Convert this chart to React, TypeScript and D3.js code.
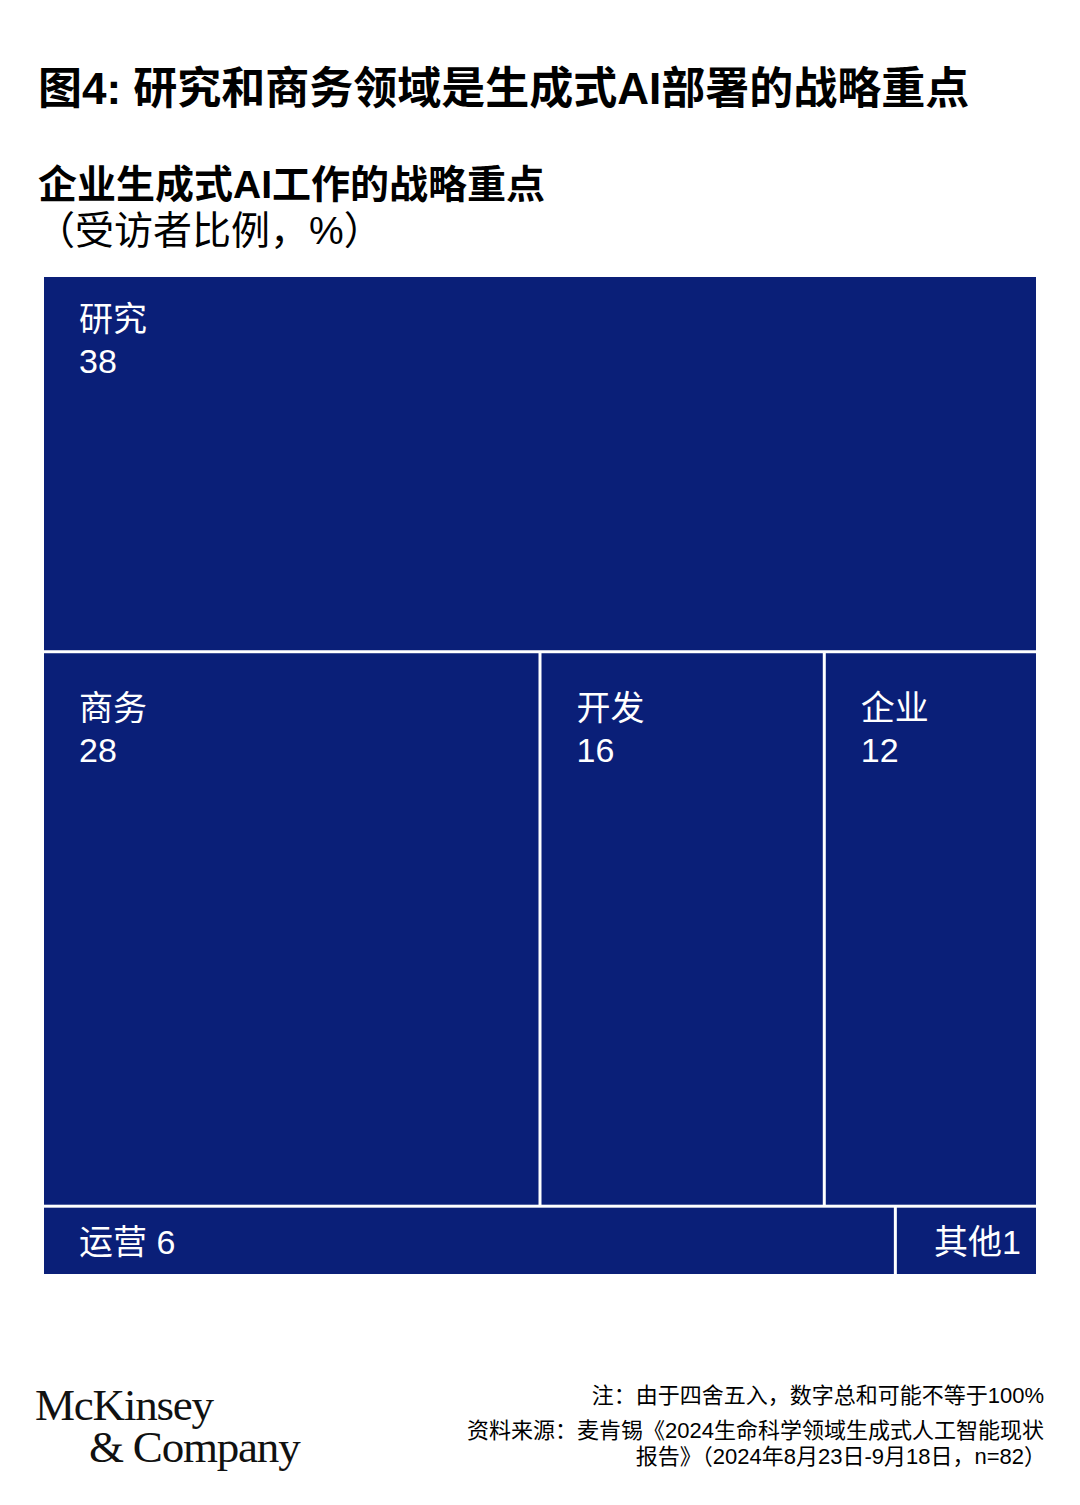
import React from "react";
import * as d3 from "d3";

const rowGroups = ["row1", "row2", "row3"];
const categories = ["研究", "商务", "开发", "企业", "运营", "其他"];
const values = [38, 28, 16, 12, 6, 1];
const rowOf = ["row1", "row2", "row2", "row2", "row3", "row3"];

const title = "图4: 研究和商务领域是生成式AI部署的战略重点";
const subtitle = "企业生成式AI工作的战略重点";
const unitLabel = "（受访者比例，%）";
const note = "注：由于四舍五入，数字总和可能不等于100%";
const source1 = "资料来源：麦肯锡《2024生命科学领域生成式人工智能现状";
const source2 = "报告》（2024年8月23日-9月18日，n=82）";

const FONT = "'Liberation Sans', Arial, 'Noto Sans CJK SC', sans-serif";
const NAVY = "#0a1f78";

export default function App() {
  const W = 1080, H = 1505;
  const X0 = 44, Y0 = 277, TW = 992, TH = 997;

  const data = {
    name: "root",
    children: rowGroups.map((g) => ({
      name: g,
      children: categories
        .map((c, i) => ({ name: c, value: values[i], row: rowOf[i] }))
        .filter((d) => d.row === g),
    })),
  };

  const root = d3.hierarchy<any>(data).sum((d: any) => d.value || 0);

  const tile = (node: any, x0: number, y0: number, x1: number, y1: number) => {
    if (node.depth === 0) d3.treemapSlice(node, x0, y0, x1, y1);
    else d3.treemapDice(node, x0, y0, x1, y1);
  };

  d3.treemap<any>().size([TW, TH]).paddingInner(3).round(false).tile(tile as any)(root);

  const leaves = root.leaves() as any[];

  return (
    <svg width={W} height={H} style={{ display: "block", position: "absolute", left: 0, top: 0 }}>
      <rect width={W} height={H} fill="#ffffff" />
      <text x={38} y={104} fontFamily={FONT} fontWeight="bold" fontSize={44} fill="#000">
        {title}
      </text>
      <text x={38} y={198} fontFamily={FONT} fontWeight="bold" fontSize={39} fill="#000">
        {subtitle}
      </text>
      <text x={36} y={244} fontFamily={FONT} fontSize={39} fill="#000">
        {unitLabel}
      </text>

      <g transform={`translate(${X0},${Y0})`}>
        <rect x={0} y={0} width={TW} height={TH} fill="#ffffff" />
        {leaves.map((d, i) => {
          const w = d.x1 - d.x0;
          const h = d.y1 - d.y0;
          const bottomRow = d.data.row === "row3";
          const isLast = bottomRow && d.data.name === "其他";
          const off = d.data.row === "row1" ? 54 : 67;
          return (
            <g key={i}>
              <rect x={d.x0} y={d.y0} width={w} height={h} fill={NAVY} />
              {bottomRow ? (
                <text
                  x={isLast ? d.x1 - 15 : d.x0 + 35}
                  y={(d.y0 + d.y1) / 2 + 13}
                  textAnchor={isLast ? "end" : "start"}
                  fontFamily={FONT}
                  fontSize={34}
                  fill="#fff"
                >
                  {isLast ? `${d.data.name}${d.data.value}` : `${d.data.name} ${d.data.value}`}
                </text>
              ) : (
                <text fontFamily={FONT} fontSize={34} fill="#fff">
                  <tspan x={d.x0 + 35} y={d.y0 + off}>{d.data.name}</tspan>
                  <tspan x={d.x0 + 35} y={d.y0 + off + 42}>{d.data.value}</tspan>
                </text>
              )}
            </g>
          );
        })}
      </g>

      <g fontFamily="'Liberation Serif', 'DejaVu Serif', serif" fill="#111">
        <text x={35} y={1420} fontSize={45} letterSpacing={-1.2}>McKinsey</text>
        <text x={89} y={1462} fontSize={45} letterSpacing={-1.2}>&amp; Company</text>
      </g>

      <g fontFamily={FONT} fontSize={22} fill="#000" textAnchor="end">
        <text x={1044} y={1403}>{note}</text>
        <text x={1044} y={1438}>{source1}</text>
        <text x={1046} y={1464}>{source2}</text>
      </g>
    </svg>
  );
}
